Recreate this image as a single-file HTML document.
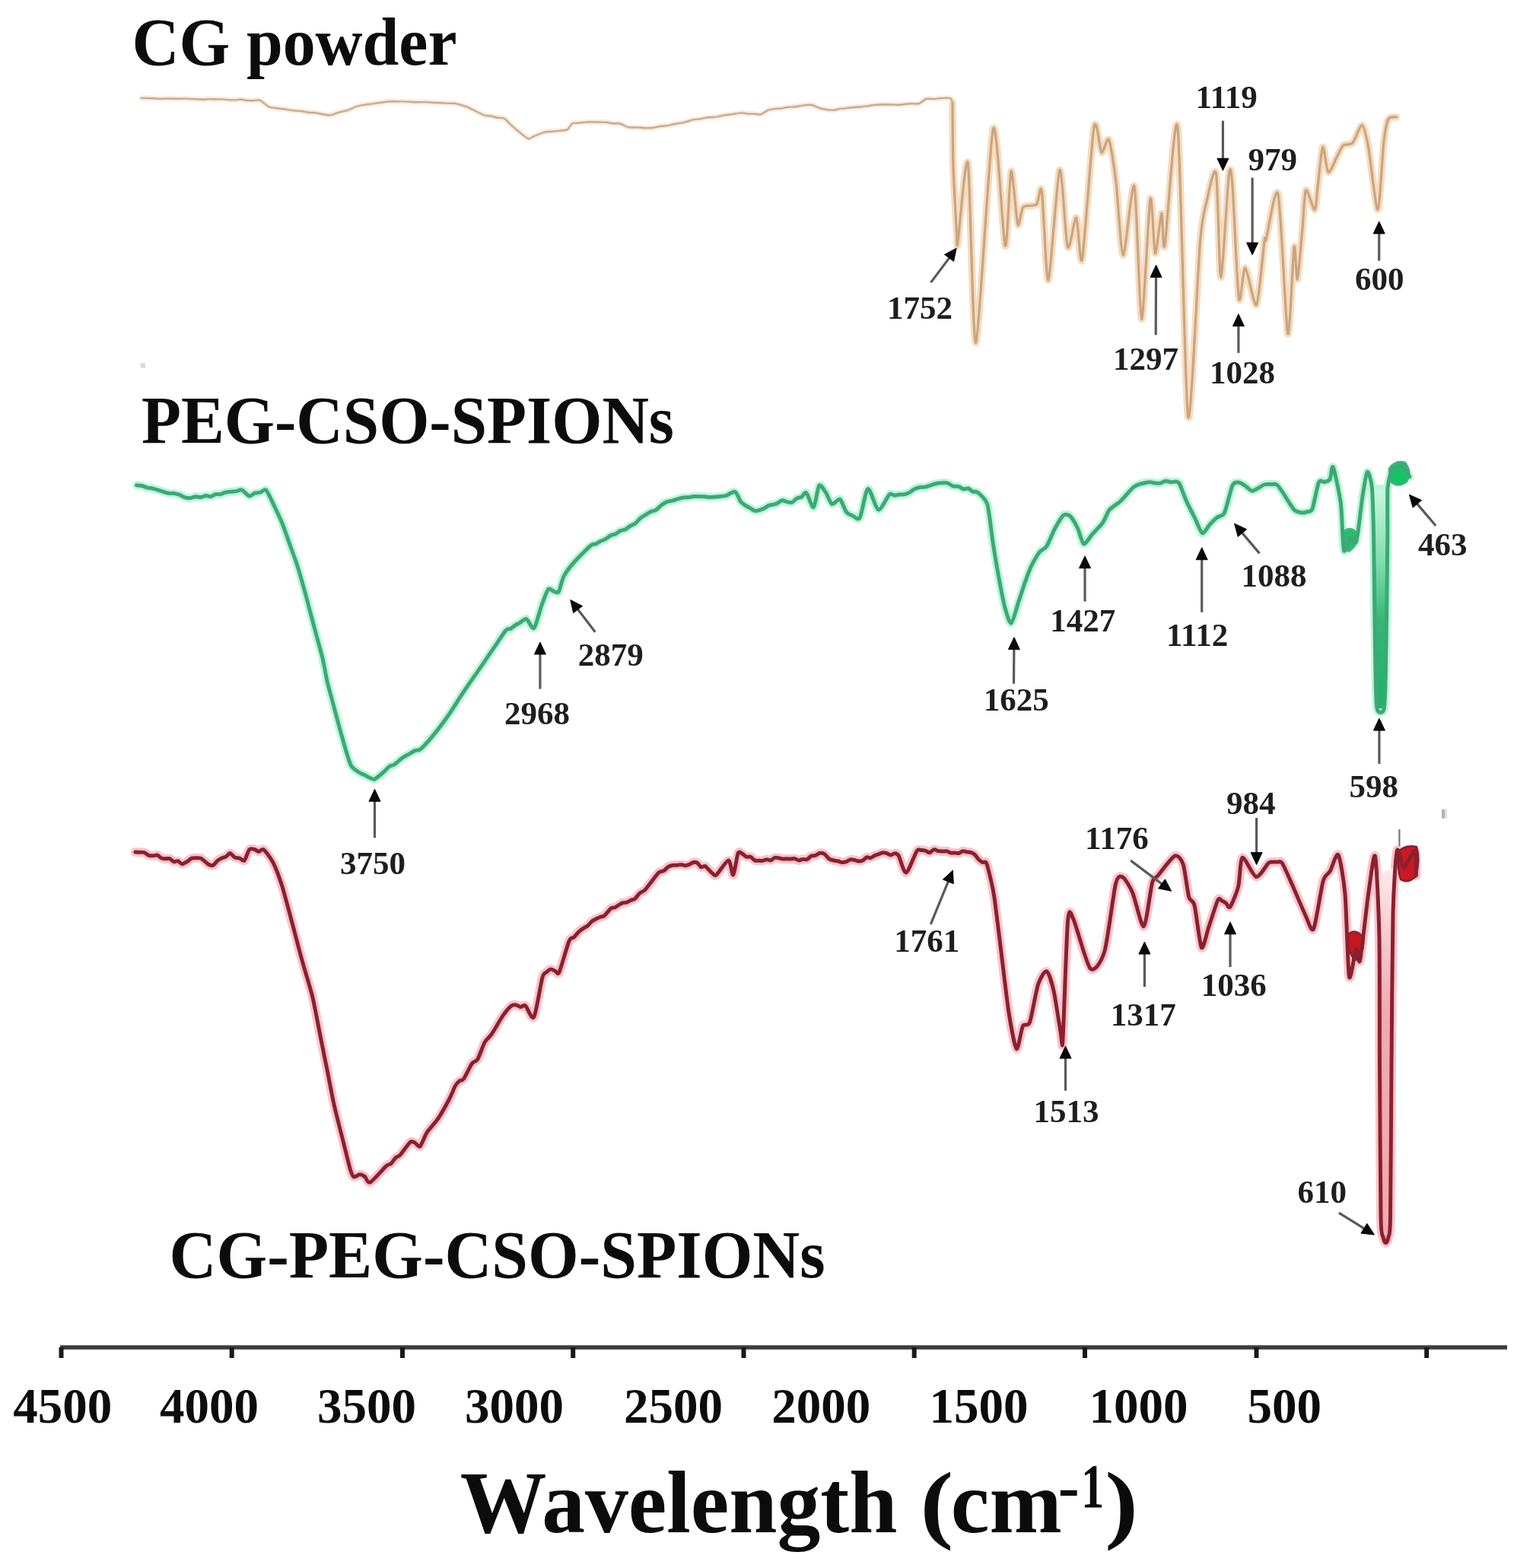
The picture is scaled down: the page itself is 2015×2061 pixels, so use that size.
<!DOCTYPE html>
<html><head><meta charset="utf-8"><title>FTIR spectra</title><style>
html,body{margin:0;padding:0;background:#fff;}
svg{display:block;filter:blur(0.45px);}
text{font-family:"Liberation Serif","Times New Roman",serif;font-weight:bold;fill:#0c0c0c;}
.n{fill:#1e1e1e;}
.ash{stroke:#5a5a5a;stroke-width:3.2;}
.ahd{fill:#0a0a0a;stroke:#0a0a0a;stroke-width:1;stroke-linejoin:round;}
.c{fill:none;stroke-linejoin:round;stroke-linecap:round;}
</style></head><body>
<svg width="2015" height="2061" viewBox="0 0 2015 2061">
<rect width="2015" height="2061" fill="#fff"/>
<path class="c" stroke="#faebdb" stroke-width="7" d="M185.8,128.9C186.8,128.9 192,128.9 194,129C196.1,129 200.2,129.2 202.2,129.3C204.3,129.4 208.4,129.8 210.4,129.9C212.5,129.9 216.6,129.5 218.6,129.5C220.7,129.4 224.8,129.6 226.9,129.7C228.9,129.7 233,129.9 235.1,129.9C237.1,129.9 241.2,129.6 243.3,129.6C245.3,129.6 249.4,130 251.5,130.1C253.5,130.2 257.6,130.3 259.7,130.4C261.7,130.5 265.9,130.8 267.9,130.8C270,130.7 274.1,130.1 276.1,130.1C278.2,130.1 282.3,130.5 284.3,130.5C286.4,130.5 290.5,130.3 292.5,130.4C294.6,130.5 298.7,131.3 300.7,131.4C302.8,131.5 306.9,131.5 309,131.4C311,131.3 315.1,130.7 317.2,130.8C319.2,130.9 323.3,131.9 325.4,132.1C327.4,132.2 331.5,132.2 333.6,132.2C335.6,132.2 339.3,130.8 341.8,131.8C344.3,132.8 350.4,139.1 353.3,140.4C356.2,141.7 362,141.9 364.9,142.3C367.7,142.8 373.8,143.5 376.4,143.9C379,144.3 383.6,145 386,145.3C388.4,145.6 393.3,145.7 395.7,146C398.1,146.3 402.9,147.4 405.3,147.7C407.7,148 412.5,148 414.9,148.4C417.3,148.7 422.2,149.8 424.6,150.2C427,150.6 431.6,151.7 434.2,151.4C436.8,151.1 442.9,148.4 445.8,147.6C448.6,146.7 454.4,145.8 457.3,144.8C460.2,143.8 466,140.8 468.9,139.9C471.8,139 477.6,138.1 480.4,137.6C483.3,137.2 489.5,136.5 492,136.1C494.5,135.7 498.5,135.1 500.7,134.8C502.8,134.5 507.2,133.8 509.3,133.6C511.5,133.4 515.7,133.2 518,133.2C520.3,133.2 525,133.3 527.4,133.4C529.7,133.4 534.4,133.5 536.8,133.6C539.1,133.7 543.8,134.2 546.1,134.3C548.5,134.4 553.2,134.1 555.5,134.1C557.8,134.1 562,134.4 564.2,134.5C566.3,134.6 570.7,135 572.9,135.1C575,135.2 579.4,135.2 581.5,135.3C583.7,135.4 588.1,135.8 590.2,135.9C592.4,136 596,135.5 598.9,136.1C601.8,136.7 610.1,139.2 613.3,140.4C616.5,141.6 622,144.5 624.8,145.8C627.7,147.2 633.9,150.6 636.4,151.4C638.9,152.2 642.9,152.1 645.1,152.5C647.2,152.9 651.6,154.4 653.7,154.7C655.9,155.1 660.2,154.4 662.4,155.5C664.6,156.6 668.5,161.3 671,163.6C673.5,165.9 679.7,171.2 682.6,173.5C685.5,175.9 692,181.5 694.2,182.3C696.4,183.1 697.3,181 700,179.9C702.7,178.8 712.6,174.5 715.8,173.6C719,172.7 723.3,173.2 725.8,172.9C728.3,172.7 733.2,172 735.7,171.7C738.2,171.4 743.7,171.6 745.7,170.4C747.7,169.2 750.1,163.6 752,162.5C753.9,161.4 758.7,161.7 760.9,161.5C763.2,161.3 767.6,160.8 769.9,160.6C772.1,160.5 776.6,160.2 778.8,160.2C781,160.2 785.6,160.4 787.8,160.5C790.1,160.6 794.6,160.6 796.9,160.8C799.2,161 803.7,162 806,162.2C808.2,162.5 812.5,161.9 815,162.5C817.5,163.1 823.3,166.7 826,167.3C828.7,167.9 833.9,167.3 836.5,167.4C839.1,167.5 844.4,168.1 847,168.2C849.6,168.3 854.9,168.3 857.5,168C860.1,167.7 865.4,166.4 868,166C870.6,165.6 875.9,165.3 878.5,164.9C881.1,164.4 886.4,163 889,162.5C891.6,162 896.9,161.4 899.5,160.8C902.2,160.2 907.4,158.3 910.1,157.7C912.7,157.1 918,156.6 920.6,156.2C923.2,155.8 928.5,154.6 931.1,154.3C933.7,154 938.9,153.9 941.5,153.6C944.1,153.2 949.2,152 952,151.5C954.8,151 960.9,150.3 963.9,149.9C966.8,149.5 973.2,148.4 975.7,148.4C978.2,148.4 981.8,149.5 983.8,149.6C985.8,149.8 989.9,149.5 991.9,149.6C993.9,149.7 997.8,151 1000,150.4C1002.2,149.8 1007.3,145.8 1009.5,144.9C1011.7,144 1015.8,143.4 1017.9,143.1C1020,142.8 1024.2,142.7 1026.3,142.5C1028.4,142.2 1032.3,141.3 1034.7,141C1037.1,140.7 1042.5,140.6 1045.1,140.3C1047.7,140 1053,138.9 1055.6,138.6C1058.2,138.3 1063.1,137.3 1066,137.8C1068.9,138.3 1075.2,141.6 1078.8,142.5C1082.4,143.4 1091.4,144.8 1094.5,144.9C1097.6,145 1101.2,143.5 1103.4,143.1C1105.7,142.8 1110.1,142.4 1112.4,142.1C1114.6,141.8 1118.9,141.2 1121.3,141C1123.7,140.8 1128.8,140.7 1131.3,140.5C1133.8,140.3 1138.8,139.5 1141.3,139.2C1143.8,138.8 1148.8,138 1151.3,137.8C1153.8,137.6 1158.8,137.4 1161.3,137.3C1163.8,137.3 1168.7,137.4 1171.2,137.5C1173.7,137.6 1178.8,137.9 1181.2,137.8C1183.6,137.7 1187.9,137 1190.1,136.8C1192.4,136.6 1196.8,136.3 1199.1,136.2C1201.3,136.1 1205.7,137 1208,136.2C1210.3,135.4 1214.9,130.8 1217.4,130C1219.9,129.2 1225.3,130.2 1227.9,130.1C1230.6,129.9 1235.8,129.1 1238.5,129C1241.1,128.9 1247.3,128.4 1249,129.1C1250.7,129.8 1251.6,134 1252,134.7"/>
<path class="c" stroke="#f6dcbf" stroke-width="9.5" d="M1252,134.7C1252.1,145.4 1252.3,198.5 1253,220C1253.7,241.5 1256.8,294.8 1257.5,307C1258.2,319.2 1257.2,329.6 1259,318C1260.8,306.4 1269.3,198.1 1272.3,214.6C1275.3,231.1 1278.6,456.1 1282.8,450.4C1287,444.7 1300.7,185.1 1305.5,169.2C1310.3,153.3 1318.3,316 1321.2,323C1324.1,330 1326.9,228.5 1329,225C1331.1,221.5 1335.8,289.1 1337.8,295C1339.8,300.9 1341.7,275.6 1344.8,272.3C1347.9,269 1359.2,271.4 1362.3,268.8C1365.4,266.2 1367.3,238.9 1369.3,251.3C1371.3,263.7 1375.1,371.8 1378,368.3C1380.9,364.8 1389.6,228.9 1392.8,223.4C1396,217.9 1400.6,316.8 1403.3,324.7C1406,332.6 1412.3,284.2 1414.7,286.2C1417.1,288.2 1419.6,355.3 1422.5,340.4C1425.4,325.5 1434.8,184.5 1438,167C1441.2,149.5 1445.5,198.4 1447.9,200.5C1450.3,202.6 1455,179 1457.4,183.7C1459.8,188.4 1464.4,219.4 1466.8,238.4C1469.2,257.4 1473.3,334.5 1476.3,335.3C1479.3,336.1 1488,234.2 1491,244.7C1494,255.2 1497.9,417.4 1500.5,419.5C1503.1,421.6 1509.8,272.4 1512,261.6C1514.2,250.8 1516.6,330.6 1518.4,333C1520.2,335.4 1525.2,281.8 1526.8,280.5C1528.4,279.2 1528.4,336.8 1531,322.6C1533.6,308.4 1544.1,138.6 1547.9,166.8C1551.7,195 1557.9,528.9 1561.6,547.9C1565.3,566.9 1574.4,353.7 1577.4,318.4C1580.4,283.1 1583.2,277.1 1585.8,265.8C1588.4,254.5 1596,215.5 1598.4,227.9C1600.8,240.3 1602.6,364.4 1604.7,364.7C1606.8,365 1613.4,245 1615.3,230C1617.2,215 1618.4,224.5 1620,244.8C1621.6,265.1 1626.3,378.8 1628.4,392.2C1630.5,405.6 1633.9,351.1 1636.8,352.2C1639.7,353.2 1648.4,405.1 1651.6,400.6C1654.8,396.1 1660.4,327.2 1662,316.4C1663.6,305.6 1662,321.9 1664.2,314.3C1666.5,306.7 1676.4,239.8 1680,255.3C1683.6,270.8 1690.1,429.8 1692.7,438.5C1695.3,447.2 1699.4,333.7 1701,324.8C1702.6,315.9 1703.9,370.1 1705.3,367C1706.7,363.9 1710.6,314.6 1712,300C1713.4,285.4 1714.4,253.1 1716.4,250C1718.4,246.9 1726,276.1 1728,275.6C1730,275.1 1730.7,256.3 1732,246C1733.3,235.7 1736.8,195.9 1738.6,193.4C1740.3,190.9 1743.6,224.8 1746,226.3C1748.4,227.8 1755,210.1 1757.5,205.7C1760,201.3 1763.1,193.2 1765.7,191C1768.3,188.8 1774.9,191 1778,187.7C1781.1,184.4 1787.8,164 1790.4,164.7C1793,165.4 1796,179.5 1798.6,193.4C1801.2,207.3 1808.5,276.7 1811,275.6C1813.5,274.6 1817.2,199.9 1819,185C1820.8,170.1 1822.9,160.3 1825,156.4C1827.1,152.5 1834.3,154.3 1835.6,154"/>
<path class="c" stroke="#c5ab92" stroke-width="2.4" d="M185.8,128.9C186.8,128.9 192,128.9 194,129C196.1,129 200.2,129.2 202.2,129.3C204.3,129.4 208.4,129.8 210.4,129.9C212.5,129.9 216.6,129.5 218.6,129.5C220.7,129.4 224.8,129.6 226.9,129.7C228.9,129.7 233,129.9 235.1,129.9C237.1,129.9 241.2,129.6 243.3,129.6C245.3,129.6 249.4,130 251.5,130.1C253.5,130.2 257.6,130.3 259.7,130.4C261.7,130.5 265.9,130.8 267.9,130.8C270,130.7 274.1,130.1 276.1,130.1C278.2,130.1 282.3,130.5 284.3,130.5C286.4,130.5 290.5,130.3 292.5,130.4C294.6,130.5 298.7,131.3 300.7,131.4C302.8,131.5 306.9,131.5 309,131.4C311,131.3 315.1,130.7 317.2,130.8C319.2,130.9 323.3,131.9 325.4,132.1C327.4,132.2 331.5,132.2 333.6,132.2C335.6,132.2 339.3,130.8 341.8,131.8C344.3,132.8 350.4,139.1 353.3,140.4C356.2,141.7 362,141.9 364.9,142.3C367.7,142.8 373.8,143.5 376.4,143.9C379,144.3 383.6,145 386,145.3C388.4,145.6 393.3,145.7 395.7,146C398.1,146.3 402.9,147.4 405.3,147.7C407.7,148 412.5,148 414.9,148.4C417.3,148.7 422.2,149.8 424.6,150.2C427,150.6 431.6,151.7 434.2,151.4C436.8,151.1 442.9,148.4 445.8,147.6C448.6,146.7 454.4,145.8 457.3,144.8C460.2,143.8 466,140.8 468.9,139.9C471.8,139 477.6,138.1 480.4,137.6C483.3,137.2 489.5,136.5 492,136.1C494.5,135.7 498.5,135.1 500.7,134.8C502.8,134.5 507.2,133.8 509.3,133.6C511.5,133.4 515.7,133.2 518,133.2C520.3,133.2 525,133.3 527.4,133.4C529.7,133.4 534.4,133.5 536.8,133.6C539.1,133.7 543.8,134.2 546.1,134.3C548.5,134.4 553.2,134.1 555.5,134.1C557.8,134.1 562,134.4 564.2,134.5C566.3,134.6 570.7,135 572.9,135.1C575,135.2 579.4,135.2 581.5,135.3C583.7,135.4 588.1,135.8 590.2,135.9C592.4,136 596,135.5 598.9,136.1C601.8,136.7 610.1,139.2 613.3,140.4C616.5,141.6 622,144.5 624.8,145.8C627.7,147.2 633.9,150.6 636.4,151.4C638.9,152.2 642.9,152.1 645.1,152.5C647.2,152.9 651.6,154.4 653.7,154.7C655.9,155.1 660.2,154.4 662.4,155.5C664.6,156.6 668.5,161.3 671,163.6C673.5,165.9 679.7,171.2 682.6,173.5C685.5,175.9 692,181.5 694.2,182.3C696.4,183.1 697.3,181 700,179.9C702.7,178.8 712.6,174.5 715.8,173.6C719,172.7 723.3,173.2 725.8,172.9C728.3,172.7 733.2,172 735.7,171.7C738.2,171.4 743.7,171.6 745.7,170.4C747.7,169.2 750.1,163.6 752,162.5C753.9,161.4 758.7,161.7 760.9,161.5C763.2,161.3 767.6,160.8 769.9,160.6C772.1,160.5 776.6,160.2 778.8,160.2C781,160.2 785.6,160.4 787.8,160.5C790.1,160.6 794.6,160.6 796.9,160.8C799.2,161 803.7,162 806,162.2C808.2,162.5 812.5,161.9 815,162.5C817.5,163.1 823.3,166.7 826,167.3C828.7,167.9 833.9,167.3 836.5,167.4C839.1,167.5 844.4,168.1 847,168.2C849.6,168.3 854.9,168.3 857.5,168C860.1,167.7 865.4,166.4 868,166C870.6,165.6 875.9,165.3 878.5,164.9C881.1,164.4 886.4,163 889,162.5C891.6,162 896.9,161.4 899.5,160.8C902.2,160.2 907.4,158.3 910.1,157.7C912.7,157.1 918,156.6 920.6,156.2C923.2,155.8 928.5,154.6 931.1,154.3C933.7,154 938.9,153.9 941.5,153.6C944.1,153.2 949.2,152 952,151.5C954.8,151 960.9,150.3 963.9,149.9C966.8,149.5 973.2,148.4 975.7,148.4C978.2,148.4 981.8,149.5 983.8,149.6C985.8,149.8 989.9,149.5 991.9,149.6C993.9,149.7 997.8,151 1000,150.4C1002.2,149.8 1007.3,145.8 1009.5,144.9C1011.7,144 1015.8,143.4 1017.9,143.1C1020,142.8 1024.2,142.7 1026.3,142.5C1028.4,142.2 1032.3,141.3 1034.7,141C1037.1,140.7 1042.5,140.6 1045.1,140.3C1047.7,140 1053,138.9 1055.6,138.6C1058.2,138.3 1063.1,137.3 1066,137.8C1068.9,138.3 1075.2,141.6 1078.8,142.5C1082.4,143.4 1091.4,144.8 1094.5,144.9C1097.6,145 1101.2,143.5 1103.4,143.1C1105.7,142.8 1110.1,142.4 1112.4,142.1C1114.6,141.8 1118.9,141.2 1121.3,141C1123.7,140.8 1128.8,140.7 1131.3,140.5C1133.8,140.3 1138.8,139.5 1141.3,139.2C1143.8,138.8 1148.8,138 1151.3,137.8C1153.8,137.6 1158.8,137.4 1161.3,137.3C1163.8,137.3 1168.7,137.4 1171.2,137.5C1173.7,137.6 1178.8,137.9 1181.2,137.8C1183.6,137.7 1187.9,137 1190.1,136.8C1192.4,136.6 1196.8,136.3 1199.1,136.2C1201.3,136.1 1205.7,137 1208,136.2C1210.3,135.4 1214.9,130.8 1217.4,130C1219.9,129.2 1225.3,130.2 1227.9,130.1C1230.6,129.9 1235.8,129.1 1238.5,129C1241.1,128.9 1247.3,128.4 1249,129.1C1250.7,129.8 1251.6,134 1252,134.7"/>
<path class="c" stroke="#c9a480" stroke-width="3.2" d="M1252,134.7C1252.1,145.4 1252.3,198.5 1253,220C1253.7,241.5 1256.8,294.8 1257.5,307C1258.2,319.2 1257.2,329.6 1259,318C1260.8,306.4 1269.3,198.1 1272.3,214.6C1275.3,231.1 1278.6,456.1 1282.8,450.4C1287,444.7 1300.7,185.1 1305.5,169.2C1310.3,153.3 1318.3,316 1321.2,323C1324.1,330 1326.9,228.5 1329,225C1331.1,221.5 1335.8,289.1 1337.8,295C1339.8,300.9 1341.7,275.6 1344.8,272.3C1347.9,269 1359.2,271.4 1362.3,268.8C1365.4,266.2 1367.3,238.9 1369.3,251.3C1371.3,263.7 1375.1,371.8 1378,368.3C1380.9,364.8 1389.6,228.9 1392.8,223.4C1396,217.9 1400.6,316.8 1403.3,324.7C1406,332.6 1412.3,284.2 1414.7,286.2C1417.1,288.2 1419.6,355.3 1422.5,340.4C1425.4,325.5 1434.8,184.5 1438,167C1441.2,149.5 1445.5,198.4 1447.9,200.5C1450.3,202.6 1455,179 1457.4,183.7C1459.8,188.4 1464.4,219.4 1466.8,238.4C1469.2,257.4 1473.3,334.5 1476.3,335.3C1479.3,336.1 1488,234.2 1491,244.7C1494,255.2 1497.9,417.4 1500.5,419.5C1503.1,421.6 1509.8,272.4 1512,261.6C1514.2,250.8 1516.6,330.6 1518.4,333C1520.2,335.4 1525.2,281.8 1526.8,280.5C1528.4,279.2 1528.4,336.8 1531,322.6C1533.6,308.4 1544.1,138.6 1547.9,166.8C1551.7,195 1557.9,528.9 1561.6,547.9C1565.3,566.9 1574.4,353.7 1577.4,318.4C1580.4,283.1 1583.2,277.1 1585.8,265.8C1588.4,254.5 1596,215.5 1598.4,227.9C1600.8,240.3 1602.6,364.4 1604.7,364.7C1606.8,365 1613.4,245 1615.3,230C1617.2,215 1618.4,224.5 1620,244.8C1621.6,265.1 1626.3,378.8 1628.4,392.2C1630.5,405.6 1633.9,351.1 1636.8,352.2C1639.7,353.2 1648.4,405.1 1651.6,400.6C1654.8,396.1 1660.4,327.2 1662,316.4C1663.6,305.6 1662,321.9 1664.2,314.3C1666.5,306.7 1676.4,239.8 1680,255.3C1683.6,270.8 1690.1,429.8 1692.7,438.5C1695.3,447.2 1699.4,333.7 1701,324.8C1702.6,315.9 1703.9,370.1 1705.3,367C1706.7,363.9 1710.6,314.6 1712,300C1713.4,285.4 1714.4,253.1 1716.4,250C1718.4,246.9 1726,276.1 1728,275.6C1730,275.1 1730.7,256.3 1732,246C1733.3,235.7 1736.8,195.9 1738.6,193.4C1740.3,190.9 1743.6,224.8 1746,226.3C1748.4,227.8 1755,210.1 1757.5,205.7C1760,201.3 1763.1,193.2 1765.7,191C1768.3,188.8 1774.9,191 1778,187.7C1781.1,184.4 1787.8,164 1790.4,164.7C1793,165.4 1796,179.5 1798.6,193.4C1801.2,207.3 1808.5,276.7 1811,275.6C1813.5,274.6 1817.2,199.9 1819,185C1820.8,170.1 1822.9,160.3 1825,156.4C1827.1,152.5 1834.3,154.3 1835.6,154"/>
<path class="c" stroke="#bdf6dc" stroke-width="11" d="M179.5,637.8C180.4,637.9 184.8,638.1 186.6,638.5C188.3,638.9 191.9,640.6 193.7,641.1C195.4,641.5 199,641.7 200.7,642.1C202.5,642.5 206,643.6 207.8,644.1C209.6,644.6 213,645.8 214.7,646.3C216.5,646.9 219.9,648 221.7,648.3C223.4,648.6 226.9,648.2 228.6,648.4C230.4,648.6 233.8,649.5 235.6,650.1C237.3,650.8 240.7,653 242.5,653.6C244.3,654.2 248,654.8 249.8,654.7C251.7,654.6 255.3,653 257.2,652.8C259,652.7 262.8,653.8 264.5,653.6C266.2,653.4 269.2,651.6 270.8,651.5C272.4,651.4 275.5,652.9 277.1,652.7C278.7,652.4 281.8,650.1 283.4,649.7C285,649.3 288.1,649.9 289.7,649.6C291.3,649.3 294.3,647.7 296,647.3C297.7,646.9 301.5,646.4 303.3,646.2C305.2,645.9 308.8,645.9 310.7,645.6C312.5,645.4 315.9,643.3 318,644.1C320.1,644.9 325.5,651.5 327.6,652C329.7,652.5 333.1,648.9 334.9,648.2C336.8,647.6 340.4,647.7 342.3,647.2C344.1,646.6 347.6,642.4 349.6,644.1C351.6,645.8 355.9,655.4 358.5,660.8C361.1,666.2 368,680.6 370.8,687.5C373.6,694.4 378.5,709.1 381.1,716.3C383.7,723.5 389,737.8 391.3,745C393.6,752.2 397.5,766.3 399.6,773.8C401.7,781.2 405.8,796.9 407.8,804.6C409.9,812.3 413.9,827.7 416,835.4C418.1,843.1 422.4,858.5 424.2,866.2C426,873.9 428.6,889.3 430.4,897C432.2,904.7 436.6,920.1 438.6,927.8C440.7,935.5 444.8,951.1 446.8,958.6C448.9,966.1 453.2,981.5 455,987.4C456.8,993.3 459.7,1002.8 461.2,1005.9C462.7,1009 465.8,1010.9 467.4,1012.2C468.9,1013.5 472,1015.3 473.5,1016.1C475,1016.9 478.1,1018.1 479.7,1018.9C481.2,1019.7 484.3,1021.7 485.8,1022.3C487.4,1023 490.4,1024.7 492,1024.3C493.6,1023.9 497,1020.8 498.7,1019.5C500.4,1018.2 503.8,1015.1 505.4,1013.6C507,1012.1 510.2,1008.6 511.8,1007.5C513.3,1006.5 516.5,1006 518.1,1005.1C519.7,1004.1 522.9,1001.1 524.4,999.9C526,998.6 529.1,996 530.8,994.9C532.5,993.8 536.3,991.9 538.2,990.9C540,989.8 543.7,987.4 545.5,986.6C547.4,985.8 549.9,987.3 552.9,984.7C555.9,982.1 565.1,971.8 569.8,966.1C574.5,960.4 585.3,946 590.2,939C595.1,932 604.1,917.2 608.8,910.2C613.5,903.2 622.8,889.9 627.5,883.1C632.2,876.3 641.5,862.7 646.1,855.9C650.8,849.1 661.6,832.5 664.7,828.8C667.8,825.1 669.4,827.4 670.9,826.6C672.5,825.7 675.6,822.9 677.2,821.9C678.7,820.9 681.6,819.6 683.4,818.6C685.2,817.6 689.6,812.8 691.9,813.6C694.2,814.5 699.5,827.7 702,825.4C704.5,823.1 709.9,801.2 712.2,794.9C714.5,788.5 718.8,776.8 720.7,774.6C722.6,772.4 725.8,776.6 727.5,777C729.1,777.4 732.5,780.4 734.2,778C735.9,775.6 738.5,762.5 741,757.6C743.5,752.7 750.1,744.1 754.6,739C759.1,733.9 773,720 776.6,717C780.2,714 781.4,715.7 783.1,715C784.7,714.3 787.9,712.1 789.5,711.3C791.1,710.5 794.3,709.7 796,708.7C797.6,707.8 800.8,704.7 802.4,703.9C804,703 807.2,702.7 808.9,702C810.5,701.2 813.7,698.4 815.3,697.6C816.9,696.9 820.1,696.8 821.8,696C823.4,695.2 826.5,692.4 828.2,691.4C829.9,690.4 833.3,689.4 835,688.1C836.7,686.8 840.1,682.5 841.8,681.1C843.5,679.7 846.9,677.8 848.6,676.7C850.3,675.7 853.7,673.3 855.4,672.5C857.1,671.7 860.5,671.4 862.2,670.4C863.9,669.4 867.3,665.5 869,664.2C870.7,662.9 874,660.6 875.8,659.9C877.6,659.2 881.7,658.7 883.6,658.2C885.6,657.7 889.6,656.2 891.5,655.7C893.4,655.2 896.8,654.3 898.5,654C900.2,653.8 903.8,653.8 905.5,653.7C907.2,653.5 910.8,652.7 912.5,652.6C914.2,652.5 917.8,652.5 919.5,652.6C921.2,652.6 924.8,652.7 926.5,652.8C928.2,652.9 931.8,653.6 933.5,653.6C935.2,653.6 938.8,653.3 940.5,653.2C942.2,653 945.8,652.7 947.5,652.5C949.2,652.3 952.2,652.3 954.5,651.5C956.8,650.7 963.7,645.4 966.1,646.3C968.5,647.2 971.7,656.6 973.4,658.9C975.1,661.2 978.1,663.3 979.7,664.4C981.3,665.5 984.5,667 986.1,667.9C987.6,668.8 990.8,671.2 992.4,671.5C994,671.8 997.1,670.9 998.7,670.4C1000.3,669.9 1003.4,668.5 1005,667.7C1006.6,666.9 1009.5,664.7 1011.3,664.1C1013.1,663.5 1017.6,663.3 1019.7,662.5C1021.8,661.7 1026.2,658.2 1028.1,657.8C1030,657.4 1032.9,659.3 1034.5,659.6C1036.2,660 1039.4,661 1041,660.4C1042.6,659.8 1045.7,656 1047.3,655.1C1048.9,654.2 1052,654.1 1053.6,653.2C1055.2,652.2 1057.9,646.1 1059.9,647.8C1061.9,649.5 1067.3,667.9 1069.4,666.7C1071.5,665.5 1074.7,640.9 1076.7,638.4C1078.7,635.9 1083,643.8 1085.1,646.8C1087.2,649.8 1091.1,661.3 1093.5,662.5C1095.9,663.7 1101.6,654.9 1104,656.2C1106.4,657.5 1110.2,670.3 1112.4,673C1114.6,675.7 1119.1,677.3 1121.3,678.2C1123.6,679.1 1127.9,684.8 1130.3,680.4C1132.7,676 1137.8,643.9 1140.8,642.6C1143.8,641.3 1151,669 1154.5,669.9C1158,670.8 1166.6,652.2 1169.2,649.9C1171.8,647.6 1173.9,651.2 1175.5,651.2C1177.1,651.2 1180.2,650.3 1181.8,650.1C1183.4,650 1186.4,650.2 1188.1,649.9C1189.8,649.6 1193.3,648.3 1195.1,647.5C1196.8,646.6 1200.3,643.6 1202.1,642.7C1203.8,641.8 1207.3,640.8 1209.1,640.5C1210.9,640.2 1214.5,640.4 1216.3,640.1C1218.1,639.8 1221.7,638.4 1223.5,637.8C1225.4,637.3 1229,635.9 1230.8,635.5C1232.6,635.1 1236.2,634.8 1238,634.7C1239.8,634.6 1243.5,634.3 1245.3,634.9C1247.2,635.4 1250.8,638.4 1252.7,639C1254.5,639.5 1258.3,638.9 1260,639.4C1261.7,639.9 1264.7,642.6 1266.3,642.9C1267.9,643.3 1271,641.6 1272.6,642C1274.2,642.5 1277.3,645.6 1278.9,646.3C1280.5,646.9 1282.8,645.2 1285.2,647.3C1287.6,649.4 1295.4,655.1 1297.8,663C1300.2,670.9 1302.9,698.5 1304.7,710.3C1306.5,722.1 1310.6,746.8 1312.6,757.6C1314.6,768.4 1318.4,789.3 1320.5,797C1322.6,804.7 1326.7,820 1329.1,819C1331.5,818 1337.1,795.8 1339.4,789.1C1341.7,782.4 1345.3,770.9 1347.3,765.4C1349.3,759.9 1352.7,749.9 1355.1,745C1357.5,740.1 1363.6,729.4 1366.2,726C1368.8,722.6 1373,722.1 1375.6,718.2C1378.2,714.3 1383.9,699.6 1386.7,694.5C1389.5,689.4 1395.2,679.2 1397.7,677.2C1400.2,675.2 1404.7,676.6 1407.1,678.8C1409.5,681 1414.4,690 1416.6,694.5C1418.8,699 1422.1,714 1424.5,715C1426.9,716 1432.3,705.9 1435.5,702.4C1438.7,698.9 1446.9,690.6 1449.7,686.7C1452.5,682.8 1455.6,673.7 1457.6,670.9C1459.6,668.1 1463.5,665.9 1465.4,664.3C1467.4,662.7 1470.3,661.2 1473.3,658.3C1476.3,655.4 1486.1,643.7 1489.1,641C1492.1,638.3 1495,637.5 1496.9,636.7C1498.9,635.9 1503,635.1 1504.8,634.7C1506.6,634.3 1509.9,633.7 1511.6,633.8C1513.3,633.8 1516.8,634.9 1518.5,635C1520.2,635.2 1523.6,635.4 1525.3,635.1C1527,634.7 1530.4,632.3 1532.1,632.2C1533.8,632 1537.3,633.6 1539,633.7C1540.7,633.8 1544.4,632.8 1545.8,633.1C1547.2,633.4 1548.7,632.9 1550.5,636.2C1552.3,639.6 1557.4,654.2 1560,659.9C1562.6,665.6 1568.5,676.8 1571,681.9C1573.5,687 1578,699.9 1580.4,700.8C1582.8,701.7 1588,691.6 1590.5,689C1593,686.4 1597.6,681.9 1600,680C1602.4,678.1 1606.9,679.2 1609.4,674C1611.9,668.8 1617.7,643.3 1619.9,638.3C1622.1,633.3 1625.3,634.1 1627.3,634.1C1629.3,634.1 1634,636.8 1636.2,638.2C1638.5,639.6 1643.1,644.7 1645.2,645.2C1647.3,645.7 1651.4,642.8 1653.4,641.8C1655.5,640.8 1659.5,637.7 1661.6,637C1663.7,636.3 1667.8,636.5 1669.8,636.5C1671.9,636.5 1676.2,635.8 1678.1,637C1680,638.2 1682.2,641.6 1685,645.7C1687.8,649.8 1697.5,666.3 1700.8,669.8C1704.1,673.3 1709.1,673.6 1711.3,674C1713.5,674.4 1716.4,673.3 1718.2,672.6C1719.9,672 1723.1,673.6 1725,668.8C1726.9,664 1731.4,638.5 1733.4,634.1C1735.4,629.7 1738.9,634.1 1740.8,633.5C1742.6,633 1746.7,632.3 1748.1,629.9C1749.5,627.5 1750.5,610.2 1752.3,614.2C1754.1,618.2 1760.5,648 1762.3,661.6C1764.1,675.2 1764.9,717.6 1766.4,723.3C1767.9,728.9 1772.5,708.3 1774.6,706.8C1776.7,705.3 1780.8,717.9 1782.9,711C1785,704.1 1789.3,662.7 1791.1,651.4C1792.9,640.1 1795.7,621.8 1797.2,620.5C1798.7,619.2 1802.4,631.2 1803.4,641.1C1804.4,651 1805.1,682.6 1805.5,700C1805.9,717.4 1806.2,755 1806.5,780C1806.8,805 1807.9,881.1 1808.3,900C1808.7,918.9 1809.2,926.4 1810,931C1810.8,935.6 1813.4,936.5 1814.6,936.5C1815.8,936.5 1818.4,935.6 1819.2,931C1820,926.4 1820.5,918.9 1821,900C1821.5,881.1 1822.7,805 1823,780C1823.3,755 1823.7,717.4 1823.8,700C1823.9,682.6 1823.2,651.6 1824,641.1C1824.8,630.6 1828.4,619.7 1830.1,616.4C1831.8,613.1 1835.5,614.9 1837.3,614.4C1839.1,613.9 1842.6,610.8 1844.5,612.3C1846.4,613.8 1851.7,624.9 1852.7,626.7"/>
<polygon fill="#bdf6dc" stroke="#bdf6dc" stroke-width="8" points="1803,641 1806,780 1808.5,931 1820.5,931 1823.5,780 1824,641"/>
<defs><linearGradient id="gsp" x1="0" y1="641" x2="0" y2="931" gradientUnits="userSpaceOnUse"><stop offset="0" stop-color="#c8f8e2"/><stop offset="0.35" stop-color="#7fdcaa"/><stop offset="0.6" stop-color="#34b876"/><stop offset="1" stop-color="#22b066"/></linearGradient></defs>
<polygon fill="url(#gsp)" points="1804,645 1806.5,780 1808.5,931 1820.5,931 1823,780 1823.5,645"/>
<path fill="#25bd6c" stroke="#49b583" stroke-width="2.5" stroke-linejoin="round" d="M1766,699 Q1775,690 1784,701 Q1786,716 1773,725 Q1764,720 1766,699 Z"/>
<path fill="#16c266" stroke="#45b07e" stroke-width="2.5" stroke-linejoin="round" d="M1826,616 Q1834,604 1847,608 Q1856,620 1849,633 Q1838,642 1828,633 Z"/>
<path class="c" stroke="#3ea875" stroke-width="5" d="M179.5,637.8C180.4,637.9 184.8,638.1 186.6,638.5C188.3,638.9 191.9,640.6 193.7,641.1C195.4,641.5 199,641.7 200.7,642.1C202.5,642.5 206,643.6 207.8,644.1C209.6,644.6 213,645.8 214.7,646.3C216.5,646.9 219.9,648 221.7,648.3C223.4,648.6 226.9,648.2 228.6,648.4C230.4,648.6 233.8,649.5 235.6,650.1C237.3,650.8 240.7,653 242.5,653.6C244.3,654.2 248,654.8 249.8,654.7C251.7,654.6 255.3,653 257.2,652.8C259,652.7 262.8,653.8 264.5,653.6C266.2,653.4 269.2,651.6 270.8,651.5C272.4,651.4 275.5,652.9 277.1,652.7C278.7,652.4 281.8,650.1 283.4,649.7C285,649.3 288.1,649.9 289.7,649.6C291.3,649.3 294.3,647.7 296,647.3C297.7,646.9 301.5,646.4 303.3,646.2C305.2,645.9 308.8,645.9 310.7,645.6C312.5,645.4 315.9,643.3 318,644.1C320.1,644.9 325.5,651.5 327.6,652C329.7,652.5 333.1,648.9 334.9,648.2C336.8,647.6 340.4,647.7 342.3,647.2C344.1,646.6 347.6,642.4 349.6,644.1C351.6,645.8 355.9,655.4 358.5,660.8C361.1,666.2 368,680.6 370.8,687.5C373.6,694.4 378.5,709.1 381.1,716.3C383.7,723.5 389,737.8 391.3,745C393.6,752.2 397.5,766.3 399.6,773.8C401.7,781.2 405.8,796.9 407.8,804.6C409.9,812.3 413.9,827.7 416,835.4C418.1,843.1 422.4,858.5 424.2,866.2C426,873.9 428.6,889.3 430.4,897C432.2,904.7 436.6,920.1 438.6,927.8C440.7,935.5 444.8,951.1 446.8,958.6C448.9,966.1 453.2,981.5 455,987.4C456.8,993.3 459.7,1002.8 461.2,1005.9C462.7,1009 465.8,1010.9 467.4,1012.2C468.9,1013.5 472,1015.3 473.5,1016.1C475,1016.9 478.1,1018.1 479.7,1018.9C481.2,1019.7 484.3,1021.7 485.8,1022.3C487.4,1023 490.4,1024.7 492,1024.3C493.6,1023.9 497,1020.8 498.7,1019.5C500.4,1018.2 503.8,1015.1 505.4,1013.6C507,1012.1 510.2,1008.6 511.8,1007.5C513.3,1006.5 516.5,1006 518.1,1005.1C519.7,1004.1 522.9,1001.1 524.4,999.9C526,998.6 529.1,996 530.8,994.9C532.5,993.8 536.3,991.9 538.2,990.9C540,989.8 543.7,987.4 545.5,986.6C547.4,985.8 549.9,987.3 552.9,984.7C555.9,982.1 565.1,971.8 569.8,966.1C574.5,960.4 585.3,946 590.2,939C595.1,932 604.1,917.2 608.8,910.2C613.5,903.2 622.8,889.9 627.5,883.1C632.2,876.3 641.5,862.7 646.1,855.9C650.8,849.1 661.6,832.5 664.7,828.8C667.8,825.1 669.4,827.4 670.9,826.6C672.5,825.7 675.6,822.9 677.2,821.9C678.7,820.9 681.6,819.6 683.4,818.6C685.2,817.6 689.6,812.8 691.9,813.6C694.2,814.5 699.5,827.7 702,825.4C704.5,823.1 709.9,801.2 712.2,794.9C714.5,788.5 718.8,776.8 720.7,774.6C722.6,772.4 725.8,776.6 727.5,777C729.1,777.4 732.5,780.4 734.2,778C735.9,775.6 738.5,762.5 741,757.6C743.5,752.7 750.1,744.1 754.6,739C759.1,733.9 773,720 776.6,717C780.2,714 781.4,715.7 783.1,715C784.7,714.3 787.9,712.1 789.5,711.3C791.1,710.5 794.3,709.7 796,708.7C797.6,707.8 800.8,704.7 802.4,703.9C804,703 807.2,702.7 808.9,702C810.5,701.2 813.7,698.4 815.3,697.6C816.9,696.9 820.1,696.8 821.8,696C823.4,695.2 826.5,692.4 828.2,691.4C829.9,690.4 833.3,689.4 835,688.1C836.7,686.8 840.1,682.5 841.8,681.1C843.5,679.7 846.9,677.8 848.6,676.7C850.3,675.7 853.7,673.3 855.4,672.5C857.1,671.7 860.5,671.4 862.2,670.4C863.9,669.4 867.3,665.5 869,664.2C870.7,662.9 874,660.6 875.8,659.9C877.6,659.2 881.7,658.7 883.6,658.2C885.6,657.7 889.6,656.2 891.5,655.7C893.4,655.2 896.8,654.3 898.5,654C900.2,653.8 903.8,653.8 905.5,653.7C907.2,653.5 910.8,652.7 912.5,652.6C914.2,652.5 917.8,652.5 919.5,652.6C921.2,652.6 924.8,652.7 926.5,652.8C928.2,652.9 931.8,653.6 933.5,653.6C935.2,653.6 938.8,653.3 940.5,653.2C942.2,653 945.8,652.7 947.5,652.5C949.2,652.3 952.2,652.3 954.5,651.5C956.8,650.7 963.7,645.4 966.1,646.3C968.5,647.2 971.7,656.6 973.4,658.9C975.1,661.2 978.1,663.3 979.7,664.4C981.3,665.5 984.5,667 986.1,667.9C987.6,668.8 990.8,671.2 992.4,671.5C994,671.8 997.1,670.9 998.7,670.4C1000.3,669.9 1003.4,668.5 1005,667.7C1006.6,666.9 1009.5,664.7 1011.3,664.1C1013.1,663.5 1017.6,663.3 1019.7,662.5C1021.8,661.7 1026.2,658.2 1028.1,657.8C1030,657.4 1032.9,659.3 1034.5,659.6C1036.2,660 1039.4,661 1041,660.4C1042.6,659.8 1045.7,656 1047.3,655.1C1048.9,654.2 1052,654.1 1053.6,653.2C1055.2,652.2 1057.9,646.1 1059.9,647.8C1061.9,649.5 1067.3,667.9 1069.4,666.7C1071.5,665.5 1074.7,640.9 1076.7,638.4C1078.7,635.9 1083,643.8 1085.1,646.8C1087.2,649.8 1091.1,661.3 1093.5,662.5C1095.9,663.7 1101.6,654.9 1104,656.2C1106.4,657.5 1110.2,670.3 1112.4,673C1114.6,675.7 1119.1,677.3 1121.3,678.2C1123.6,679.1 1127.9,684.8 1130.3,680.4C1132.7,676 1137.8,643.9 1140.8,642.6C1143.8,641.3 1151,669 1154.5,669.9C1158,670.8 1166.6,652.2 1169.2,649.9C1171.8,647.6 1173.9,651.2 1175.5,651.2C1177.1,651.2 1180.2,650.3 1181.8,650.1C1183.4,650 1186.4,650.2 1188.1,649.9C1189.8,649.6 1193.3,648.3 1195.1,647.5C1196.8,646.6 1200.3,643.6 1202.1,642.7C1203.8,641.8 1207.3,640.8 1209.1,640.5C1210.9,640.2 1214.5,640.4 1216.3,640.1C1218.1,639.8 1221.7,638.4 1223.5,637.8C1225.4,637.3 1229,635.9 1230.8,635.5C1232.6,635.1 1236.2,634.8 1238,634.7C1239.8,634.6 1243.5,634.3 1245.3,634.9C1247.2,635.4 1250.8,638.4 1252.7,639C1254.5,639.5 1258.3,638.9 1260,639.4C1261.7,639.9 1264.7,642.6 1266.3,642.9C1267.9,643.3 1271,641.6 1272.6,642C1274.2,642.5 1277.3,645.6 1278.9,646.3C1280.5,646.9 1282.8,645.2 1285.2,647.3C1287.6,649.4 1295.4,655.1 1297.8,663C1300.2,670.9 1302.9,698.5 1304.7,710.3C1306.5,722.1 1310.6,746.8 1312.6,757.6C1314.6,768.4 1318.4,789.3 1320.5,797C1322.6,804.7 1326.7,820 1329.1,819C1331.5,818 1337.1,795.8 1339.4,789.1C1341.7,782.4 1345.3,770.9 1347.3,765.4C1349.3,759.9 1352.7,749.9 1355.1,745C1357.5,740.1 1363.6,729.4 1366.2,726C1368.8,722.6 1373,722.1 1375.6,718.2C1378.2,714.3 1383.9,699.6 1386.7,694.5C1389.5,689.4 1395.2,679.2 1397.7,677.2C1400.2,675.2 1404.7,676.6 1407.1,678.8C1409.5,681 1414.4,690 1416.6,694.5C1418.8,699 1422.1,714 1424.5,715C1426.9,716 1432.3,705.9 1435.5,702.4C1438.7,698.9 1446.9,690.6 1449.7,686.7C1452.5,682.8 1455.6,673.7 1457.6,670.9C1459.6,668.1 1463.5,665.9 1465.4,664.3C1467.4,662.7 1470.3,661.2 1473.3,658.3C1476.3,655.4 1486.1,643.7 1489.1,641C1492.1,638.3 1495,637.5 1496.9,636.7C1498.9,635.9 1503,635.1 1504.8,634.7C1506.6,634.3 1509.9,633.7 1511.6,633.8C1513.3,633.8 1516.8,634.9 1518.5,635C1520.2,635.2 1523.6,635.4 1525.3,635.1C1527,634.7 1530.4,632.3 1532.1,632.2C1533.8,632 1537.3,633.6 1539,633.7C1540.7,633.8 1544.4,632.8 1545.8,633.1C1547.2,633.4 1548.7,632.9 1550.5,636.2C1552.3,639.6 1557.4,654.2 1560,659.9C1562.6,665.6 1568.5,676.8 1571,681.9C1573.5,687 1578,699.9 1580.4,700.8C1582.8,701.7 1588,691.6 1590.5,689C1593,686.4 1597.6,681.9 1600,680C1602.4,678.1 1606.9,679.2 1609.4,674C1611.9,668.8 1617.7,643.3 1619.9,638.3C1622.1,633.3 1625.3,634.1 1627.3,634.1C1629.3,634.1 1634,636.8 1636.2,638.2C1638.5,639.6 1643.1,644.7 1645.2,645.2C1647.3,645.7 1651.4,642.8 1653.4,641.8C1655.5,640.8 1659.5,637.7 1661.6,637C1663.7,636.3 1667.8,636.5 1669.8,636.5C1671.9,636.5 1676.2,635.8 1678.1,637C1680,638.2 1682.2,641.6 1685,645.7C1687.8,649.8 1697.5,666.3 1700.8,669.8C1704.1,673.3 1709.1,673.6 1711.3,674C1713.5,674.4 1716.4,673.3 1718.2,672.6C1719.9,672 1723.1,673.6 1725,668.8C1726.9,664 1731.4,638.5 1733.4,634.1C1735.4,629.7 1738.9,634.1 1740.8,633.5C1742.6,633 1746.7,632.3 1748.1,629.9C1749.5,627.5 1750.5,610.2 1752.3,614.2C1754.1,618.2 1760.5,648 1762.3,661.6C1764.1,675.2 1764.9,717.6 1766.4,723.3C1767.9,728.9 1772.5,708.3 1774.6,706.8C1776.7,705.3 1780.8,717.9 1782.9,711C1785,704.1 1789.3,662.7 1791.1,651.4C1792.9,640.1 1795.7,621.8 1797.2,620.5C1798.7,619.2 1802.4,631.2 1803.4,641.1C1804.4,651 1805.1,682.6 1805.5,700C1805.9,717.4 1806.2,755 1806.5,780C1806.8,805 1807.9,881.1 1808.3,900C1808.7,918.9 1809.2,926.4 1810,931C1810.8,935.6 1813.4,936.5 1814.6,936.5C1815.8,936.5 1818.4,935.6 1819.2,931C1820,926.4 1820.5,918.9 1821,900C1821.5,881.1 1822.7,805 1823,780C1823.3,755 1823.7,717.4 1823.8,700C1823.9,682.6 1823.2,651.6 1824,641.1C1824.8,630.6 1828.4,619.7 1830.1,616.4C1831.8,613.1 1835.5,614.9 1837.3,614.4C1839.1,613.9 1842.6,610.8 1844.5,612.3C1846.4,613.8 1851.7,624.9 1852.7,626.7"/>
<path class="c" stroke="#f8c6cb" stroke-width="12" d="M177.9,1119.9C178.6,1119.9 182.3,1120.1 183.8,1120.2C185.3,1120.3 188.2,1120 189.7,1120.5C191.2,1121 194.1,1123.8 195.6,1124.3C197.1,1124.8 200.1,1124.7 201.5,1124.7C202.9,1124.7 205.6,1123.6 206.9,1124C208.2,1124.5 211,1127.4 212.3,1128C213.7,1128.6 216.3,1128.6 217.7,1128.7C219,1128.8 221.8,1128.2 223.1,1128.7C224.4,1129.2 227.2,1132.2 228.5,1132.6C229.8,1133 232.6,1131.3 233.9,1131.7C235.2,1132.1 237.8,1135.6 239.3,1135.7C240.8,1135.8 244,1133.7 245.6,1132.7C247.2,1131.8 250.3,1128.8 251.9,1128.2C253.5,1127.6 256.7,1127.8 258.2,1127.8C259.7,1127.8 262.3,1127.5 263.7,1128C265.1,1128.6 267.9,1131.1 269.2,1132.2C270.6,1133.2 273.4,1136 274.8,1136.6C276.2,1137.3 278.9,1138 280.3,1137.3C281.7,1136.6 284.4,1132.6 285.8,1131.4C287.2,1130.2 290,1128.6 291.4,1128C292.7,1127.3 295.5,1126.9 296.9,1126.1C298.3,1125.3 300.9,1121.4 302.4,1121.5C303.9,1121.6 307.1,1126.2 308.7,1127C310.3,1127.8 313.4,1127.7 315,1128.2C316.6,1128.7 319.7,1132.4 321.3,1131C322.9,1129.6 326,1118.6 327.6,1116.8C329.2,1115 332.3,1116 333.9,1116.3C335.5,1116.6 338.6,1119.2 340.2,1119.3C341.8,1119.3 344.2,1115 346.5,1116.8C348.8,1118.6 355.9,1127.7 358.9,1133.6C361.9,1139.5 367.4,1154 370.7,1164.3C373.9,1174.6 381.6,1204.2 384.9,1216.3C388.1,1228.4 393.4,1249.4 396.7,1261.2C399.9,1273 407.9,1298.7 410.9,1310.8C413.8,1322.9 417.9,1346.2 420.3,1358C422.7,1369.8 427.4,1393.5 429.8,1405.3C432.2,1417.1 436.6,1440.7 439.2,1452.5C441.8,1464.3 448.3,1489.2 451,1499.8C453.7,1510.4 458.7,1531.7 460.5,1537.6C462.3,1543.5 463.7,1546.2 465.2,1547C466.7,1547.8 470.8,1543.9 472.6,1543.8C474.4,1543.7 477.8,1545.3 479.6,1546.6C481.3,1547.9 483,1555.8 486.5,1554.1C490,1552.4 504.3,1535.8 507.7,1532.7C511.1,1529.6 512.3,1531 513.9,1529.6C515.4,1528.3 518.5,1523.2 520,1521.7C521.6,1520.3 523.8,1520.5 526.2,1517.9C528.6,1515.3 536.7,1503.3 539.1,1501.3C541.5,1499.3 544,1501.5 545.6,1502.2C547.2,1502.9 550.1,1508.5 552.1,1506.8C554.1,1505.1 558.3,1493 561.3,1488.4C564.3,1483.8 572.4,1475.5 576.1,1469.9C579.8,1464.4 588.1,1449.3 590.9,1444C593.7,1438.7 596.7,1430.3 598.3,1427.4C599.9,1424.5 602.5,1421.9 603.8,1420.8C605.2,1419.6 607.3,1421 609.4,1418.1C611.5,1415.2 618.2,1401 620.5,1397.8C622.8,1394.6 625.8,1395.7 627.9,1392.2C630,1388.7 634.8,1374.2 637.1,1370.1C639.4,1365.9 643.4,1363.4 646.4,1359C649.4,1354.6 657.9,1339.5 661.1,1334.9C664.3,1330.3 670,1323.7 672.2,1322C674.4,1320.3 676.8,1320.8 678.4,1321C679.9,1321.2 683,1323.5 684.5,1323.6C686.1,1323.8 688.5,1320.4 690.7,1322C692.9,1323.6 699,1341.4 701.8,1336.8C704.6,1332.2 710.8,1292.4 712.9,1285C715,1277.6 717.1,1279.2 718.5,1277.8C719.8,1276.4 722.6,1274.1 724,1273.9C725.4,1273.7 728.2,1275.7 729.5,1276.2C730.9,1276.6 732.8,1282.5 735.1,1277.6C737.4,1272.7 745.6,1242.7 748,1237C750.4,1231.3 752.6,1233.6 754.2,1232.2C755.7,1230.7 758.8,1226.7 760.3,1225.2C761.9,1223.7 765,1221.3 766.5,1220.3C768,1219.3 770.7,1218.3 772,1217.2C773.4,1216.1 776.2,1212.5 777.6,1211.4C779,1210.2 781.7,1208.8 783.1,1208C784.5,1207.3 787.3,1206 788.7,1205.5C790,1204.9 792.4,1205.1 794.2,1203.7C796,1202.3 801.2,1195.4 803,1194C804.8,1192.6 806.9,1193.4 808.2,1192.8C809.6,1192.3 812.2,1190.2 813.5,1189.4C814.8,1188.7 817.4,1187.2 818.8,1186.7C820.1,1186.3 822.7,1186.5 824,1186C825.3,1185.6 827.9,1183.8 829.2,1183.3C830.6,1182.7 833.1,1182.5 834.5,1181.4C835.9,1180.3 839.2,1175.4 840.8,1174.1C842.4,1172.7 845.6,1171.8 847.2,1170.3C848.8,1168.9 851.1,1165.5 853.5,1162.5C855.9,1159.5 863.7,1148.9 866.1,1146.7C868.5,1144.5 870.8,1145.6 872.4,1144.6C874,1143.7 877.1,1140 878.7,1139.1C880.3,1138.2 883.6,1137.5 885,1137.3C886.4,1137.1 888.9,1137.3 890.2,1137.2C891.6,1137 894.2,1136.3 895.5,1136.4C896.8,1136.4 899.4,1137.7 900.8,1137.7C902.1,1137.7 904.7,1136.9 906,1136.4C907.3,1135.8 909.9,1133.8 911.2,1133.5C912.6,1133.2 915.2,1133.3 916.5,1134.1C917.8,1134.9 920.3,1139.2 921.5,1139.8C922.8,1140.3 925.3,1138 926.6,1138.4C927.8,1138.9 930.4,1141.9 931.6,1143.2C932.9,1144.4 935.4,1147.2 936.7,1148.1C937.9,1148.9 939.1,1152 941.7,1149.9C944.3,1147.8 954.7,1131 957.5,1131C960.3,1131 962.2,1151.1 963.8,1149.9C965.4,1148.7 968.6,1125 970.1,1121.5C971.6,1118 974.2,1121.5 975.6,1122.1C977,1122.7 979.7,1125.7 981.1,1126.2C982.5,1126.7 985.2,1125.6 986.6,1126.2C988,1126.8 990.8,1130.4 992.1,1131C993.4,1131.6 996,1131.3 997.4,1131.3C998.7,1131.4 1001.3,1131.5 1002.6,1131.3C1003.9,1131.1 1006.5,1129.8 1007.9,1129.8C1009.2,1129.7 1011.8,1131.1 1013.1,1130.8C1014.4,1130.5 1017,1127.7 1018.4,1127.4C1019.7,1127 1022.3,1127.6 1023.6,1127.8C1024.9,1128 1027.6,1129 1028.9,1129.1C1030.2,1129.2 1032.8,1128.8 1034.1,1128.8C1035.5,1128.8 1038.1,1129 1039.4,1129C1040.7,1129 1043.4,1128.4 1044.7,1128.6C1046,1128.9 1048.6,1130.8 1049.9,1130.9C1051.2,1131 1053.9,1129.5 1055.2,1129.4C1056.5,1129.3 1059.3,1130.2 1060.7,1129.7C1062.1,1129.2 1064.8,1126 1066.2,1125.3C1067.6,1124.6 1070.3,1124.8 1071.7,1124.3C1073.1,1123.9 1075.7,1121.7 1077.2,1121.5C1078.7,1121.3 1081.9,1121.5 1083.5,1122.4C1085.1,1123.3 1088.2,1127.8 1089.8,1128.9C1091.4,1130 1094.6,1130.6 1096.1,1131C1097.6,1131.4 1100.2,1131.4 1101.5,1131.8C1102.8,1132.1 1105.5,1133.5 1106.9,1133.6C1108.2,1133.7 1110.9,1133.1 1112.3,1132.7C1113.7,1132.2 1116.3,1130.2 1117.7,1129.9C1119.1,1129.6 1121.8,1130.2 1123.1,1130.4C1124.5,1130.7 1127.2,1131.8 1128.5,1131.9C1129.8,1132 1132.6,1131.6 1133.9,1131C1135.2,1130.4 1137.9,1127.4 1139.2,1126.9C1140.5,1126.5 1143.1,1127.9 1144.4,1127.6C1145.8,1127.3 1148.4,1125.1 1149.7,1124.5C1151,1123.9 1153.7,1123.1 1155,1122.7C1156.3,1122.2 1158.9,1120.9 1160.2,1120.8C1161.5,1120.6 1164.2,1121.1 1165.5,1121.5C1166.8,1121.9 1169.4,1123.9 1170.7,1124C1172,1124 1174.7,1121.6 1176,1121.7C1177.3,1121.8 1179.3,1121.5 1181.2,1124.7C1183.1,1127.9 1188,1147.8 1191,1147.1C1194,1146.4 1202.5,1122.5 1205,1118.8C1207.5,1115.1 1209.2,1117.6 1210.6,1117.5C1212.1,1117.4 1214.9,1117.8 1216.3,1118.2C1217.7,1118.6 1220.5,1120.9 1221.9,1120.7C1223.3,1120.5 1226.2,1116.9 1227.6,1116.6C1229,1116.3 1231.8,1118.2 1233.2,1118.5C1234.6,1118.8 1237.4,1119 1238.9,1119.1C1240.3,1119.1 1243.1,1118.5 1244.5,1118.8C1245.9,1119.1 1248.4,1120.8 1249.8,1121.1C1251.1,1121.3 1253.7,1120.9 1255,1121C1256.3,1121 1258.9,1121.8 1260.2,1121.5C1261.6,1121.2 1264.2,1118.9 1265.5,1118.7C1266.8,1118.5 1269.4,1119.5 1270.8,1119.7C1272.1,1119.9 1274.7,1120 1276,1120.4C1277.3,1120.8 1279.8,1122.1 1281.1,1123.2C1282.4,1124.3 1285,1128.2 1286.2,1129.4C1287.5,1130.7 1290.1,1132.7 1291.4,1133.4C1292.7,1134 1295.1,1131.4 1296.5,1134.5C1297.9,1137.6 1301.4,1152.2 1302.8,1158.2C1304.2,1164.2 1305.7,1170.2 1307.4,1182.5C1309.1,1194.8 1314.3,1237.9 1316.6,1256.4C1318.9,1274.9 1323.5,1315.1 1325.9,1330.4C1328.3,1345.7 1333.8,1376.2 1336.1,1378.5C1338.4,1380.8 1342.2,1353.3 1344.4,1348.9C1346.6,1344.5 1351.1,1350.3 1353.6,1343.4C1356.1,1336.5 1361.9,1301.7 1364.7,1293.4C1367.5,1285.1 1373.2,1275.6 1375.8,1276.8C1378.3,1278 1382.8,1292.5 1385.1,1302.7C1387.4,1312.9 1392.8,1350.3 1394.3,1358.2C1395.8,1366.1 1395.8,1384.5 1397,1366C1398.2,1347.5 1401.8,1229.9 1403.6,1210.2C1405.3,1190.5 1407.3,1200.5 1411,1208.4C1414.7,1216.3 1428.1,1267.8 1433.2,1273.1C1438.3,1278.4 1447.5,1264.8 1451.7,1250.9C1455.9,1237 1463.4,1174.3 1466.4,1162.1C1469.4,1149.8 1472.9,1151.5 1475.7,1152.9C1478.5,1154.3 1485.1,1165.1 1488.6,1173.2C1492.1,1181.3 1500.2,1219.2 1503.4,1217.6C1506.6,1216 1512.2,1168.6 1514.5,1160.3C1516.8,1152 1518.2,1155.4 1521.9,1151C1525.6,1146.6 1539.9,1126.9 1544.1,1125.1C1548.3,1123.2 1552.9,1129.5 1555.2,1136.2C1557.5,1142.9 1560.8,1172.1 1562.6,1178.8C1564.4,1185.5 1567.9,1181.6 1570,1189.9C1572.1,1198.2 1577,1241.7 1579.3,1245.4C1581.6,1249.1 1585.8,1227.3 1588.5,1219.5C1591.2,1211.7 1598.6,1187.4 1600.8,1183C1603,1178.6 1604.9,1183.6 1606.2,1184.2C1607.5,1184.7 1610.2,1186.3 1611.6,1187.3C1612.9,1188.3 1615,1194.8 1617,1192C1619,1189.2 1625.7,1173.1 1627.7,1165C1629.7,1156.9 1630.2,1128.9 1633.1,1127.3C1636,1125.7 1646.8,1151.6 1651.1,1152.5C1655.4,1153.4 1664.5,1136.9 1667.3,1134.5C1670.1,1132.1 1671.8,1133.3 1673.3,1133.1C1674.8,1132.9 1677.8,1132.9 1679.3,1133.1C1680.8,1133.3 1683,1131 1685.3,1134.5C1687.6,1138 1694.1,1153 1697.9,1161.5C1701.7,1170 1712.2,1195.4 1715.8,1202.8C1719.4,1210.2 1723.7,1226.4 1726.6,1220.8C1729.5,1215.2 1736.5,1167.3 1739.2,1157.9C1741.9,1148.5 1745.7,1149.6 1748.2,1145.3C1750.7,1141 1756.5,1119.9 1759,1123.7C1761.5,1127.5 1766.2,1155.8 1768,1175.8C1769.8,1195.8 1771.6,1274.7 1773.4,1283.7C1775.2,1292.7 1780.5,1250.4 1782.3,1247.7C1784.1,1245 1785.7,1271.1 1787.7,1262.1C1789.7,1253.1 1796,1192.9 1798.5,1175.8C1801,1158.7 1805.7,1118.8 1807.5,1125.5C1809.3,1132.2 1812.2,1195.5 1812.9,1229.8C1813.7,1264.1 1813.2,1353.7 1813.5,1400C1813.8,1446.3 1814.4,1571.8 1815,1600C1815.6,1628.2 1817.2,1621.8 1818,1626C1818.8,1630.2 1820.6,1633.5 1821.5,1633.5C1822.4,1633.5 1824.2,1630.2 1825,1626C1825.8,1621.8 1827,1628.2 1827.5,1600C1828,1571.8 1828.6,1450 1829,1400C1829.4,1350 1830.1,1235.2 1831,1200C1831.9,1164.8 1834.5,1125.8 1836.3,1118.3C1838.1,1110.8 1842.4,1139.9 1845.3,1139.9C1848.2,1139.9 1857.6,1117 1859.6,1118.3C1861.6,1119.6 1861.2,1146.7 1861.4,1150.7"/>
<defs><linearGradient id="rsp" x1="0" y1="1150" x2="0" y2="1330" gradientUnits="userSpaceOnUse"><stop offset="0" stop-color="#fde6e8"/><stop offset="1" stop-color="#f3a9b1"/></linearGradient></defs>
<polygon fill="url(#rsp)" points="1810,1150 1813,1235 1815,1600 1821.5,1630 1828,1600 1829.5,1235 1833,1140"/>
<path fill="#cc1822" stroke="#8a1f2a" stroke-width="2.5" stroke-linejoin="round" d="M1838,1120 Q1846,1110 1862,1113 Q1867,1130 1861,1152 Q1850,1162 1841,1156 Q1836,1140 1838,1120 Z"/>
<path fill="#c41822" stroke="#8a2431" stroke-width="2.5" stroke-linejoin="round" d="M1772,1228 Q1782,1219 1792,1233 Q1794,1252 1782,1262 Q1771,1254 1772,1228 Z"/>
<path class="c" stroke="#8a2030" stroke-width="5" d="M177.9,1119.9C178.6,1119.9 182.3,1120.1 183.8,1120.2C185.3,1120.3 188.2,1120 189.7,1120.5C191.2,1121 194.1,1123.8 195.6,1124.3C197.1,1124.8 200.1,1124.7 201.5,1124.7C202.9,1124.7 205.6,1123.6 206.9,1124C208.2,1124.5 211,1127.4 212.3,1128C213.7,1128.6 216.3,1128.6 217.7,1128.7C219,1128.8 221.8,1128.2 223.1,1128.7C224.4,1129.2 227.2,1132.2 228.5,1132.6C229.8,1133 232.6,1131.3 233.9,1131.7C235.2,1132.1 237.8,1135.6 239.3,1135.7C240.8,1135.8 244,1133.7 245.6,1132.7C247.2,1131.8 250.3,1128.8 251.9,1128.2C253.5,1127.6 256.7,1127.8 258.2,1127.8C259.7,1127.8 262.3,1127.5 263.7,1128C265.1,1128.6 267.9,1131.1 269.2,1132.2C270.6,1133.2 273.4,1136 274.8,1136.6C276.2,1137.3 278.9,1138 280.3,1137.3C281.7,1136.6 284.4,1132.6 285.8,1131.4C287.2,1130.2 290,1128.6 291.4,1128C292.7,1127.3 295.5,1126.9 296.9,1126.1C298.3,1125.3 300.9,1121.4 302.4,1121.5C303.9,1121.6 307.1,1126.2 308.7,1127C310.3,1127.8 313.4,1127.7 315,1128.2C316.6,1128.7 319.7,1132.4 321.3,1131C322.9,1129.6 326,1118.6 327.6,1116.8C329.2,1115 332.3,1116 333.9,1116.3C335.5,1116.6 338.6,1119.2 340.2,1119.3C341.8,1119.3 344.2,1115 346.5,1116.8C348.8,1118.6 355.9,1127.7 358.9,1133.6C361.9,1139.5 367.4,1154 370.7,1164.3C373.9,1174.6 381.6,1204.2 384.9,1216.3C388.1,1228.4 393.4,1249.4 396.7,1261.2C399.9,1273 407.9,1298.7 410.9,1310.8C413.8,1322.9 417.9,1346.2 420.3,1358C422.7,1369.8 427.4,1393.5 429.8,1405.3C432.2,1417.1 436.6,1440.7 439.2,1452.5C441.8,1464.3 448.3,1489.2 451,1499.8C453.7,1510.4 458.7,1531.7 460.5,1537.6C462.3,1543.5 463.7,1546.2 465.2,1547C466.7,1547.8 470.8,1543.9 472.6,1543.8C474.4,1543.7 477.8,1545.3 479.6,1546.6C481.3,1547.9 483,1555.8 486.5,1554.1C490,1552.4 504.3,1535.8 507.7,1532.7C511.1,1529.6 512.3,1531 513.9,1529.6C515.4,1528.3 518.5,1523.2 520,1521.7C521.6,1520.3 523.8,1520.5 526.2,1517.9C528.6,1515.3 536.7,1503.3 539.1,1501.3C541.5,1499.3 544,1501.5 545.6,1502.2C547.2,1502.9 550.1,1508.5 552.1,1506.8C554.1,1505.1 558.3,1493 561.3,1488.4C564.3,1483.8 572.4,1475.5 576.1,1469.9C579.8,1464.4 588.1,1449.3 590.9,1444C593.7,1438.7 596.7,1430.3 598.3,1427.4C599.9,1424.5 602.5,1421.9 603.8,1420.8C605.2,1419.6 607.3,1421 609.4,1418.1C611.5,1415.2 618.2,1401 620.5,1397.8C622.8,1394.6 625.8,1395.7 627.9,1392.2C630,1388.7 634.8,1374.2 637.1,1370.1C639.4,1365.9 643.4,1363.4 646.4,1359C649.4,1354.6 657.9,1339.5 661.1,1334.9C664.3,1330.3 670,1323.7 672.2,1322C674.4,1320.3 676.8,1320.8 678.4,1321C679.9,1321.2 683,1323.5 684.5,1323.6C686.1,1323.8 688.5,1320.4 690.7,1322C692.9,1323.6 699,1341.4 701.8,1336.8C704.6,1332.2 710.8,1292.4 712.9,1285C715,1277.6 717.1,1279.2 718.5,1277.8C719.8,1276.4 722.6,1274.1 724,1273.9C725.4,1273.7 728.2,1275.7 729.5,1276.2C730.9,1276.6 732.8,1282.5 735.1,1277.6C737.4,1272.7 745.6,1242.7 748,1237C750.4,1231.3 752.6,1233.6 754.2,1232.2C755.7,1230.7 758.8,1226.7 760.3,1225.2C761.9,1223.7 765,1221.3 766.5,1220.3C768,1219.3 770.7,1218.3 772,1217.2C773.4,1216.1 776.2,1212.5 777.6,1211.4C779,1210.2 781.7,1208.8 783.1,1208C784.5,1207.3 787.3,1206 788.7,1205.5C790,1204.9 792.4,1205.1 794.2,1203.7C796,1202.3 801.2,1195.4 803,1194C804.8,1192.6 806.9,1193.4 808.2,1192.8C809.6,1192.3 812.2,1190.2 813.5,1189.4C814.8,1188.7 817.4,1187.2 818.8,1186.7C820.1,1186.3 822.7,1186.5 824,1186C825.3,1185.6 827.9,1183.8 829.2,1183.3C830.6,1182.7 833.1,1182.5 834.5,1181.4C835.9,1180.3 839.2,1175.4 840.8,1174.1C842.4,1172.7 845.6,1171.8 847.2,1170.3C848.8,1168.9 851.1,1165.5 853.5,1162.5C855.9,1159.5 863.7,1148.9 866.1,1146.7C868.5,1144.5 870.8,1145.6 872.4,1144.6C874,1143.7 877.1,1140 878.7,1139.1C880.3,1138.2 883.6,1137.5 885,1137.3C886.4,1137.1 888.9,1137.3 890.2,1137.2C891.6,1137 894.2,1136.3 895.5,1136.4C896.8,1136.4 899.4,1137.7 900.8,1137.7C902.1,1137.7 904.7,1136.9 906,1136.4C907.3,1135.8 909.9,1133.8 911.2,1133.5C912.6,1133.2 915.2,1133.3 916.5,1134.1C917.8,1134.9 920.3,1139.2 921.5,1139.8C922.8,1140.3 925.3,1138 926.6,1138.4C927.8,1138.9 930.4,1141.9 931.6,1143.2C932.9,1144.4 935.4,1147.2 936.7,1148.1C937.9,1148.9 939.1,1152 941.7,1149.9C944.3,1147.8 954.7,1131 957.5,1131C960.3,1131 962.2,1151.1 963.8,1149.9C965.4,1148.7 968.6,1125 970.1,1121.5C971.6,1118 974.2,1121.5 975.6,1122.1C977,1122.7 979.7,1125.7 981.1,1126.2C982.5,1126.7 985.2,1125.6 986.6,1126.2C988,1126.8 990.8,1130.4 992.1,1131C993.4,1131.6 996,1131.3 997.4,1131.3C998.7,1131.4 1001.3,1131.5 1002.6,1131.3C1003.9,1131.1 1006.5,1129.8 1007.9,1129.8C1009.2,1129.7 1011.8,1131.1 1013.1,1130.8C1014.4,1130.5 1017,1127.7 1018.4,1127.4C1019.7,1127 1022.3,1127.6 1023.6,1127.8C1024.9,1128 1027.6,1129 1028.9,1129.1C1030.2,1129.2 1032.8,1128.8 1034.1,1128.8C1035.5,1128.8 1038.1,1129 1039.4,1129C1040.7,1129 1043.4,1128.4 1044.7,1128.6C1046,1128.9 1048.6,1130.8 1049.9,1130.9C1051.2,1131 1053.9,1129.5 1055.2,1129.4C1056.5,1129.3 1059.3,1130.2 1060.7,1129.7C1062.1,1129.2 1064.8,1126 1066.2,1125.3C1067.6,1124.6 1070.3,1124.8 1071.7,1124.3C1073.1,1123.9 1075.7,1121.7 1077.2,1121.5C1078.7,1121.3 1081.9,1121.5 1083.5,1122.4C1085.1,1123.3 1088.2,1127.8 1089.8,1128.9C1091.4,1130 1094.6,1130.6 1096.1,1131C1097.6,1131.4 1100.2,1131.4 1101.5,1131.8C1102.8,1132.1 1105.5,1133.5 1106.9,1133.6C1108.2,1133.7 1110.9,1133.1 1112.3,1132.7C1113.7,1132.2 1116.3,1130.2 1117.7,1129.9C1119.1,1129.6 1121.8,1130.2 1123.1,1130.4C1124.5,1130.7 1127.2,1131.8 1128.5,1131.9C1129.8,1132 1132.6,1131.6 1133.9,1131C1135.2,1130.4 1137.9,1127.4 1139.2,1126.9C1140.5,1126.5 1143.1,1127.9 1144.4,1127.6C1145.8,1127.3 1148.4,1125.1 1149.7,1124.5C1151,1123.9 1153.7,1123.1 1155,1122.7C1156.3,1122.2 1158.9,1120.9 1160.2,1120.8C1161.5,1120.6 1164.2,1121.1 1165.5,1121.5C1166.8,1121.9 1169.4,1123.9 1170.7,1124C1172,1124 1174.7,1121.6 1176,1121.7C1177.3,1121.8 1179.3,1121.5 1181.2,1124.7C1183.1,1127.9 1188,1147.8 1191,1147.1C1194,1146.4 1202.5,1122.5 1205,1118.8C1207.5,1115.1 1209.2,1117.6 1210.6,1117.5C1212.1,1117.4 1214.9,1117.8 1216.3,1118.2C1217.7,1118.6 1220.5,1120.9 1221.9,1120.7C1223.3,1120.5 1226.2,1116.9 1227.6,1116.6C1229,1116.3 1231.8,1118.2 1233.2,1118.5C1234.6,1118.8 1237.4,1119 1238.9,1119.1C1240.3,1119.1 1243.1,1118.5 1244.5,1118.8C1245.9,1119.1 1248.4,1120.8 1249.8,1121.1C1251.1,1121.3 1253.7,1120.9 1255,1121C1256.3,1121 1258.9,1121.8 1260.2,1121.5C1261.6,1121.2 1264.2,1118.9 1265.5,1118.7C1266.8,1118.5 1269.4,1119.5 1270.8,1119.7C1272.1,1119.9 1274.7,1120 1276,1120.4C1277.3,1120.8 1279.8,1122.1 1281.1,1123.2C1282.4,1124.3 1285,1128.2 1286.2,1129.4C1287.5,1130.7 1290.1,1132.7 1291.4,1133.4C1292.7,1134 1295.1,1131.4 1296.5,1134.5C1297.9,1137.6 1301.4,1152.2 1302.8,1158.2C1304.2,1164.2 1305.7,1170.2 1307.4,1182.5C1309.1,1194.8 1314.3,1237.9 1316.6,1256.4C1318.9,1274.9 1323.5,1315.1 1325.9,1330.4C1328.3,1345.7 1333.8,1376.2 1336.1,1378.5C1338.4,1380.8 1342.2,1353.3 1344.4,1348.9C1346.6,1344.5 1351.1,1350.3 1353.6,1343.4C1356.1,1336.5 1361.9,1301.7 1364.7,1293.4C1367.5,1285.1 1373.2,1275.6 1375.8,1276.8C1378.3,1278 1382.8,1292.5 1385.1,1302.7C1387.4,1312.9 1392.8,1350.3 1394.3,1358.2C1395.8,1366.1 1395.8,1384.5 1397,1366C1398.2,1347.5 1401.8,1229.9 1403.6,1210.2C1405.3,1190.5 1407.3,1200.5 1411,1208.4C1414.7,1216.3 1428.1,1267.8 1433.2,1273.1C1438.3,1278.4 1447.5,1264.8 1451.7,1250.9C1455.9,1237 1463.4,1174.3 1466.4,1162.1C1469.4,1149.8 1472.9,1151.5 1475.7,1152.9C1478.5,1154.3 1485.1,1165.1 1488.6,1173.2C1492.1,1181.3 1500.2,1219.2 1503.4,1217.6C1506.6,1216 1512.2,1168.6 1514.5,1160.3C1516.8,1152 1518.2,1155.4 1521.9,1151C1525.6,1146.6 1539.9,1126.9 1544.1,1125.1C1548.3,1123.2 1552.9,1129.5 1555.2,1136.2C1557.5,1142.9 1560.8,1172.1 1562.6,1178.8C1564.4,1185.5 1567.9,1181.6 1570,1189.9C1572.1,1198.2 1577,1241.7 1579.3,1245.4C1581.6,1249.1 1585.8,1227.3 1588.5,1219.5C1591.2,1211.7 1598.6,1187.4 1600.8,1183C1603,1178.6 1604.9,1183.6 1606.2,1184.2C1607.5,1184.7 1610.2,1186.3 1611.6,1187.3C1612.9,1188.3 1615,1194.8 1617,1192C1619,1189.2 1625.7,1173.1 1627.7,1165C1629.7,1156.9 1630.2,1128.9 1633.1,1127.3C1636,1125.7 1646.8,1151.6 1651.1,1152.5C1655.4,1153.4 1664.5,1136.9 1667.3,1134.5C1670.1,1132.1 1671.8,1133.3 1673.3,1133.1C1674.8,1132.9 1677.8,1132.9 1679.3,1133.1C1680.8,1133.3 1683,1131 1685.3,1134.5C1687.6,1138 1694.1,1153 1697.9,1161.5C1701.7,1170 1712.2,1195.4 1715.8,1202.8C1719.4,1210.2 1723.7,1226.4 1726.6,1220.8C1729.5,1215.2 1736.5,1167.3 1739.2,1157.9C1741.9,1148.5 1745.7,1149.6 1748.2,1145.3C1750.7,1141 1756.5,1119.9 1759,1123.7C1761.5,1127.5 1766.2,1155.8 1768,1175.8C1769.8,1195.8 1771.6,1274.7 1773.4,1283.7C1775.2,1292.7 1780.5,1250.4 1782.3,1247.7C1784.1,1245 1785.7,1271.1 1787.7,1262.1C1789.7,1253.1 1796,1192.9 1798.5,1175.8C1801,1158.7 1805.7,1118.8 1807.5,1125.5C1809.3,1132.2 1812.2,1195.5 1812.9,1229.8C1813.7,1264.1 1813.2,1353.7 1813.5,1400C1813.8,1446.3 1814.4,1571.8 1815,1600C1815.6,1628.2 1817.2,1621.8 1818,1626C1818.8,1630.2 1820.6,1633.5 1821.5,1633.5C1822.4,1633.5 1824.2,1630.2 1825,1626C1825.8,1621.8 1827,1628.2 1827.5,1600C1828,1571.8 1828.6,1450 1829,1400C1829.4,1350 1830.1,1235.2 1831,1200C1831.9,1164.8 1834.5,1125.8 1836.3,1118.3C1838.1,1110.8 1842.4,1139.9 1845.3,1139.9C1848.2,1139.9 1857.6,1117 1859.6,1118.3C1861.6,1119.6 1861.2,1146.7 1861.4,1150.7"/>
<line x1="79" y1="1771" x2="1981" y2="1771" stroke="#3c3c3c" stroke-width="5.5"/>
<line x1="80.5" y1="1771" x2="80.5" y2="1785" stroke="#1a1a1a" stroke-width="6"/>
<line x1="304.7" y1="1771" x2="304.7" y2="1785" stroke="#1a1a1a" stroke-width="6"/>
<line x1="529" y1="1771" x2="529" y2="1785" stroke="#1a1a1a" stroke-width="6"/>
<line x1="753.2" y1="1771" x2="753.2" y2="1785" stroke="#1a1a1a" stroke-width="6"/>
<line x1="977.5" y1="1771" x2="977.5" y2="1785" stroke="#1a1a1a" stroke-width="6"/>
<line x1="1201.7" y1="1771" x2="1201.7" y2="1785" stroke="#1a1a1a" stroke-width="6"/>
<line x1="1426" y1="1771" x2="1426" y2="1785" stroke="#1a1a1a" stroke-width="6"/>
<line x1="1651.5" y1="1771" x2="1651.5" y2="1785" stroke="#1a1a1a" stroke-width="6"/>
<line x1="1875.2" y1="1771" x2="1875.2" y2="1785" stroke="#1a1a1a" stroke-width="6"/>
<text x="17.2" y="1870.2" font-size="65">4500</text>
<text x="209.9" y="1870.2" font-size="65">4000</text>
<text x="416.9" y="1870.2" font-size="65">3500</text>
<text x="611" y="1870.2" font-size="65">3000</text>
<text x="819.9" y="1870.2" font-size="65">2500</text>
<text x="1014.3" y="1870.2" font-size="65">2000</text>
<text x="1221.4" y="1870.2" font-size="65">1500</text>
<text x="1431.5" y="1870.2" font-size="65">1000</text>
<text x="1639.6" y="1870.2" font-size="65">500</text>
<text x="1166.1" y="418.9" font-size="43" class="n">1752</text>
<text x="1462.9" y="485.9" font-size="43" class="n">1297</text>
<text x="1571.5" y="142.4" font-size="43" class="n">1119</text>
<text x="1640.5" y="223.9" font-size="43" class="n">979</text>
<text x="1590.1" y="504.3" font-size="43" class="n">1028</text>
<text x="1781.1" y="381.4" font-size="43" class="n">600</text>
<text x="447.1" y="1149.4" font-size="43" class="n">3750</text>
<text x="663.1" y="952.4" font-size="43" class="n">2968</text>
<text x="759.8" y="875.1" font-size="43" class="n">2879</text>
<text x="1292.8" y="934.1" font-size="43" class="n">1625</text>
<text x="1380.2" y="830.1" font-size="43" class="n">1427</text>
<text x="1532.9" y="849" font-size="43" class="n">1112</text>
<text x="1631.5" y="771.3" font-size="43" class="n">1088</text>
<text x="1864.1" y="730.3" font-size="43" class="n">463</text>
<text x="1773.4" y="1047.7" font-size="43" class="n">598</text>
<text x="1175.3" y="1250.8" font-size="43" class="n">1761</text>
<text x="1426" y="1115.8" font-size="43" class="n">1176</text>
<text x="1612.1" y="1070.1" font-size="43" class="n">984</text>
<text x="1358.4" y="1475" font-size="43" class="n">1513</text>
<text x="1459.7" y="1347.7" font-size="43" class="n">1317</text>
<text x="1578.7" y="1308.6" font-size="43" class="n">1036</text>
<text x="1705.4" y="1581" font-size="43" class="n">610</text>
<line x1="1223.5" y1="371.4" x2="1249.5" y2="336.6" class="ash"/><polygon points="1257.1,326.3 1253.6,343.6 1241.5,334.6" class="ahd"/>
<line x1="1519.2" y1="440.3" x2="1519.5" y2="361.2" class="ash"/><polygon points="1519.6,348.4 1527,364.4 1512,364.4" class="ahd"/>
<line x1="1607.4" y1="158.7" x2="1607.4" y2="211.4" class="ash"/><polygon points="1607.4,224.2 1599.9,208.2 1614.9,208.2" class="ahd"/>
<line x1="1646.1" y1="233.5" x2="1646.1" y2="322.2" class="ash"/><polygon points="1646.1,335 1638.6,319 1653.6,319" class="ahd"/>
<line x1="1627.9" y1="463.9" x2="1627.9" y2="425.5" class="ash"/><polygon points="1627.9,412.7 1635.4,428.7 1620.4,428.7" class="ahd"/>
<line x1="1812.7" y1="342.7" x2="1812.7" y2="303.9" class="ash"/><polygon points="1812.7,291.1 1820.2,307.1 1805.2,307.1" class="ahd"/>
<line x1="492.5" y1="1101.3" x2="492.5" y2="1050.1" class="ash"/><polygon points="492.5,1037.3 500,1053.3 485,1053.3" class="ahd"/>
<line x1="709.9" y1="905.6" x2="709.9" y2="856.8" class="ash"/><polygon points="709.9,844 717.4,860 702.4,860" class="ahd"/>
<line x1="782.4" y1="830.7" x2="757.6" y2="798.6" class="ash"/><polygon points="749.8,788.5 765.5,796.6 753.6,805.7" class="ahd"/>
<line x1="1332.5" y1="898.7" x2="1332.9" y2="850.5" class="ash"/><polygon points="1333,837.7 1340.4,853.8 1325.4,853.6" class="ahd"/>
<line x1="1426" y1="790.6" x2="1426" y2="743.6" class="ash"/><polygon points="1426,730.8 1433.5,746.8 1418.5,746.8" class="ahd"/>
<line x1="1579.7" y1="804.8" x2="1579.7" y2="732.5" class="ash"/><polygon points="1579.7,719.7 1587.2,735.7 1572.2,735.7" class="ahd"/>
<line x1="1655.5" y1="727.4" x2="1630.8" y2="698.1" class="ash"/><polygon points="1622.6,688.3 1638.6,695.7 1627.2,705.4" class="ahd"/>
<line x1="1887.2" y1="691" x2="1860.7" y2="659.9" class="ash"/><polygon points="1852.4,650.2 1868.5,657.5 1857.1,667.2" class="ahd"/>
<line x1="1812.9" y1="1004" x2="1812.9" y2="956.9" class="ash"/><polygon points="1812.9,944.1 1820.4,960.1 1805.4,960.1" class="ahd"/>
<line x1="1223.3" y1="1214.9" x2="1247.5" y2="1155.8" class="ash"/><polygon points="1252.4,1144 1253.3,1161.6 1239.4,1156" class="ahd"/>
<line x1="1486.2" y1="1131.1" x2="1529.5" y2="1163.6" class="ash"/><polygon points="1539.7,1171.3 1522.4,1167.7 1531.4,1155.7" class="ahd"/>
<line x1="1651.6" y1="1075.1" x2="1651.6" y2="1123.8" class="ash"/><polygon points="1651.6,1136.6 1644.1,1120.6 1659.1,1120.6" class="ahd"/>
<line x1="1400.5" y1="1433.7" x2="1400.5" y2="1387.9" class="ash"/><polygon points="1400.5,1375.1 1408,1391.1 1393,1391.1" class="ahd"/>
<line x1="1504.4" y1="1297.1" x2="1504.4" y2="1250.8" class="ash"/><polygon points="1504.4,1238 1511.9,1254 1496.9,1254" class="ahd"/>
<line x1="1617" y1="1271.1" x2="1617" y2="1224.6" class="ash"/><polygon points="1617,1211.8 1624.5,1227.8 1609.5,1227.8" class="ahd"/>
<line x1="1759.8" y1="1594.2" x2="1795.6" y2="1616.3" class="ash"/><polygon points="1806.5,1623 1788.9,1621 1796.8,1608.2" class="ahd"/>
<text x="173.6" y="85" font-size="88" textLength="427" lengthAdjust="spacingAndGlyphs">CG powder</text>
<text x="186" y="582" font-size="88" textLength="700" lengthAdjust="spacingAndGlyphs">PEG-CSO-SPIONs</text>
<text x="222.6" y="1679" font-size="88" textLength="862" lengthAdjust="spacingAndGlyphs">CG-PEG-CSO-SPIONs</text>
<text x="604.8" y="2013.7" font-size="117" textLength="574.6" lengthAdjust="spacingAndGlyphs">Wavelength</text>
<text transform="translate(1209.6,2013.7) scale(1.150,1)" font-size="114">(</text>
<text x="1249.8" y="2013.7" font-size="116" textLength="146" lengthAdjust="spacingAndGlyphs">cm</text>
<text x="1390.8" y="1981.5" font-size="84">-</text>
<text transform="translate(1421.1,1981.4) scale(0.740,1)" font-size="82">1</text>
<text transform="translate(1452.2,2013.7) scale(1.150,1)" font-size="114">)</text>
<rect x="184.5" y="477.5" width="6.5" height="6" fill="#d8d8d8"/>
<rect x="1895" y="1063" width="7" height="13" fill="#e2e2e2"/>
<rect x="1895" y="1064.5" width="4" height="11" fill="#b2b2b2"/>
<line x1="1839.4" y1="1090" x2="1839.4" y2="1112" stroke="#777" stroke-width="2.2"/>
</svg>
</body></html>
